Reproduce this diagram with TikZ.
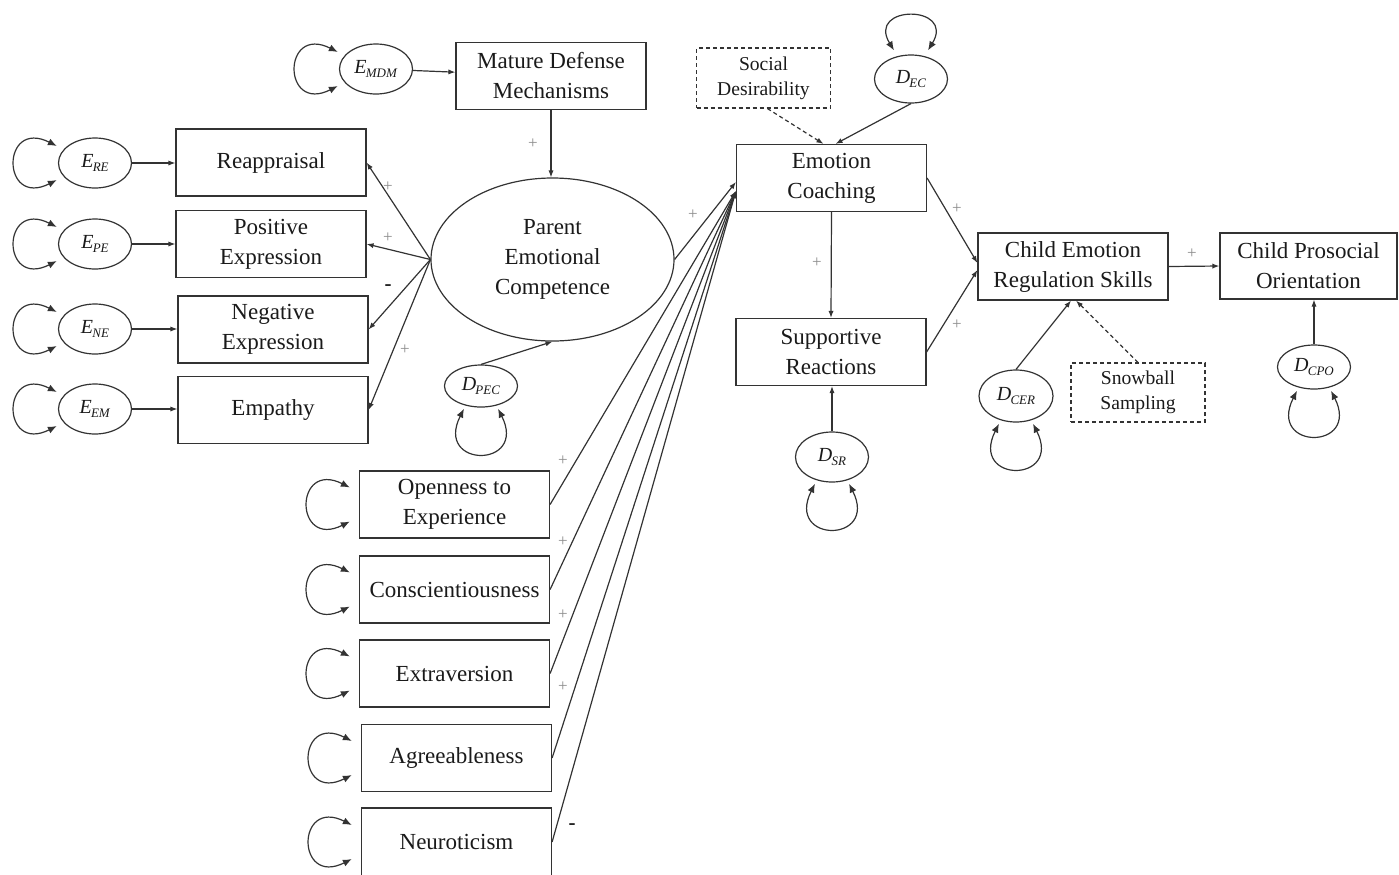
\documentclass[tikz,border=0pt]{standalone}
\usepackage{fontspec}
\setmainfont{Liberation Serif}
\usetikzlibrary{positioning,arrows.meta,calc,shapes.geometric}

\definecolor{ln}{HTML}{333333}
\definecolor{tx}{HTML}{1A1A1A}
\definecolor{sg}{HTML}{8C8C8C}

% latent error / disturbance label
\newcommand{\lat}[2]{\textit{#1}\kern-0.04em\raisebox{-0.4ex}{\fontsize{6.5}{7}\selectfont\textit{#2}}}

\tikzset{
  box/.style={rectangle, draw=ln, line width=.6pt, minimum width=95pt, minimum height=33.5pt,
    inner sep=0pt, align=center, text=tx, font=\fontsize{11.5}{15}\selectfont},
  dbox/.style={box, dash pattern=on 2pt off 1.5pt, minimum width=67pt, minimum height=30pt,
    font=\fontsize{9.8}{12.5}\selectfont},
  err/.style={ellipse, draw=ln, line width=.6pt, minimum width=36.5pt, minimum height=25pt,
    inner sep=0pt, text=tx, font=\fontsize{10}{12}\selectfont},
  latent/.style={ellipse, draw=ln, line width=.6pt, minimum width=121.5pt, minimum height=81.5pt,
    inner sep=0pt, align=center, text=tx, font=\fontsize{11.5}{15}\selectfont},
  arr/.style={draw=ln, line width=.6pt, -{Latex[length=3.5pt,width=2.6pt]}},
  darr/.style={arr, dash pattern=on 2pt off 1.5pt},
  selfarr/.style={draw=ln, line width=.6pt, {Latex[length=4.5pt,width=3.6pt]}-{Latex[length=4.5pt,width=3.6pt]}},
  plus/.style={text=sg, inner sep=0pt, font=\fontsize{8.5}{8.5}\selectfont},
  minus/.style={text=tx, inner sep=0pt, font=\bfseries\fontsize{10.5}{10.5}\selectfont}
}

\begin{document}
\begin{tikzpicture}[x=0.5pt,y=-0.5pt]
\useasboundingbox (0,0) rectangle (1399,874);

% indicators of parent emotional competence
\node[box] (mdm) at (551,76) {Mature Defense\\Mechanisms};
\node[box] (reap) at (271,162.5) {Reappraisal};
\node[box] (pos) at (271,244) {Positive\\Expression};
\node[box] (neg) at (273,329.5) {Negative\\Expression};
\node[box] (emp) at (273,410) {Empathy};
\node[err] (emdm) at (376,69) {\lat{E}{MDM}};
\foreach \n/\s/\y in {ere/RE/163, epe/PE/244, ene/NE/329, eem/EM/409}
  \node[err] (\n) at (95,\y) {\lat{E}{\s}};

\node[latent] (pec) at (552.5,259.5) {Parent\\Emotional\\Competence};
\node[err, minimum height=21pt] (dpec) at (481,386) {\lat{D}{PEC}};

% big five
\node[box] (open) at (454.5,504.5) {Openness to\\Experience};
\node[box] (cons) at (454.5,589.5) {Conscientiousness};
\node[box] (extr) at (454.5,673.5) {Extraversion};
\node[box] (agre) at (456.5,758) {Agreeableness};
\node[box, minimum height=34pt] (neur) at (456.5,842) {Neuroticism};

% parenting and child outcomes
\node[box] (ec) at (831.5,178) {Emotion\\Coaching};
\node[box] (sr) at (831,352) {Supportive\\Reactions};
\node[box] (cers) at (1073,266.5) {Child Emotion\\Regulation Skills};
\node[box, minimum width=88.5pt, minimum height=33pt] (cpo) at (1308.5,266) {Child Prosocial\\Orientation};
\node[dbox] (sd) at (763.5,78) {Social\\Desirability};
\node[dbox, minimum height=29.5pt] (snow) at (1138,392.5) {Snowball\\Sampling};
\node[err, minimum height=24pt] (dec) at (911,79) {\lat{D}{EC}};
\node[err] (dsr) at (832,457) {\lat{D}{SR}};
\node[err, minimum width=37pt, minimum height=26pt] (dcer) at (1016,396) {\lat{D}{CER}};
\node[err, minimum height=22pt] (dcpo) at (1314,367) {\lat{D}{CPO}};

% paths
\draw[arr] (emdm) -- (mdm);
\foreach \e/\b in {ere/reap, epe/pos, ene/neg, eem/emp}
  \draw[arr] (\e) -- (\b.west |- \e);
\draw[arr] (mdm.south) -- (mdm.south |- pec.north);
\foreach \b in {reap, pos, neg, emp}
  \draw[arr] (pec.west) -- (\b.east);
\draw[arr] (dpec.north) -- (pec.south);
\draw[arr] (pec.east) -- ($(ec.west)+(0,4)$);
\foreach \b in {open, cons, extr, agre, neur}
  \draw[arr] (\b.east) -- ($(ec.west)+(0,13)$);
\draw[darr] ($(sd.south)+(4,0)$) -- ($(ec.north)+(-8,0)$);
\draw[arr] (dec.south) -- ($(ec.north)+(4,0)$);
\draw[arr] (ec.south) -- (sr.north);
\draw[arr] (dsr.north) -- (dsr.north |- sr.south);
\draw[arr] (ec.east) -- ($(cers.west)+(0,-3.5)$);
\draw[arr] (sr.east) -- ($(cers.west)+(0,3.5)$);
\draw[arr] (cers.east) -- (cpo.west);
\draw[arr] (dcer.north) -- ($(cers.south)+(-2,0)$);
\draw[darr] (snow.north) -- ($(cers.south)+(3,0)$);
\draw[arr] (dcpo.north) -- (dcpo.north |- cpo.south);

% variances
\foreach \n in {emdm, ere, epe, ene, eem}
  \draw[selfarr] ($(\n.west)+(-1,-17)$) .. controls +(-56,-28) and +(-56,28) .. ($(\n.west)+(-1,17)$);
\foreach \n in {open, cons, extr, agre, neur}
  \draw[selfarr] ($(\n.west)+(-9,-17)$) .. controls +(-56,-28) and +(-56,28) .. ($(\n.west)+(-9,17)$);
\foreach \n in {dpec, dsr, dcer, dcpo}
  \draw[selfarr] ($(\n.south)+(-17,1)$) .. controls +(-30,60) and +(30,60) .. ($(\n.south)+(17,1)$);
\draw[selfarr] ($(dec.north)+(-17,-4)$) .. controls +(-28,-46) and +(28,-46) .. ($(dec.north)+(17,-4)$);

% signs
\node[plus] (s1) at (388,187) {+};
\node[plus] (s2) at (388,238) {+};
\node[minus] (s3) at (388,288) {-};
\node[plus] (s4) at (405,350) {+};
\node[plus] (s5) at (533,144) {+};
\node[plus] (s6) at (693,215) {+};
\foreach \i/\y in {7/461, 8/542, 9/615, 10/687}
  \node[plus] (s\i) at (563,\y) {+};
\node[minus] (s11) at (572,827) {-};
\node[plus] (s12) at (817,263) {+};
\node[plus] (s13) at (957,209) {+};
\node[plus] (s14) at (957,325) {+};
\node[plus] (s15) at (1192,254) {+};
\end{tikzpicture}
\end{document}
